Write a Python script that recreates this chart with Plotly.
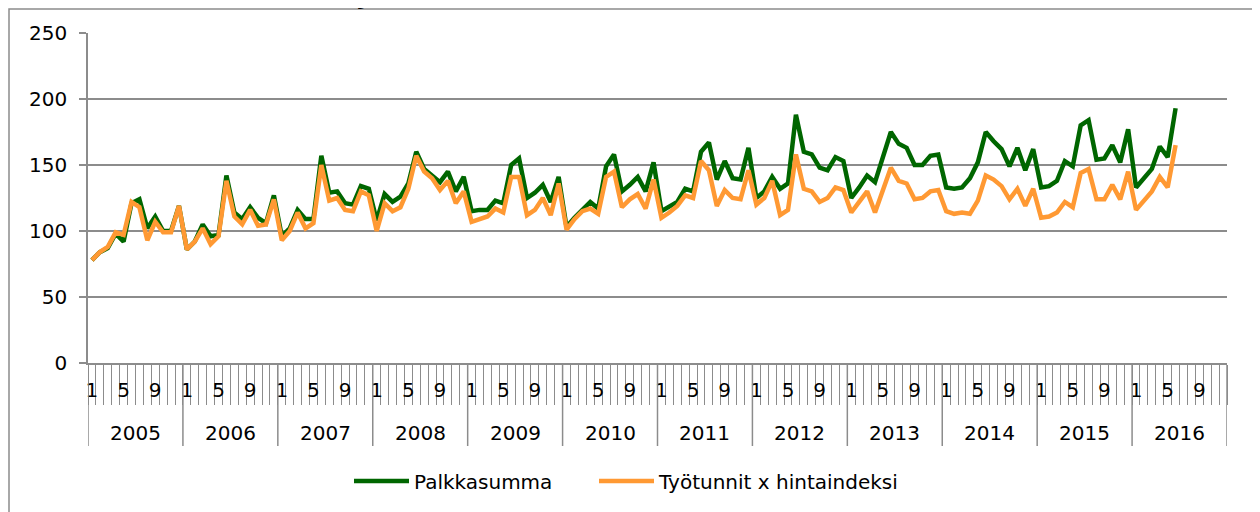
import plotly.graph_objects as go

years = ["2005", "2006", "2007", "2008", "2009", "2010", "2011", "2012",
         "2013", "2014", "2015", "2016"]
month_labels = ["1", "", "", "", "5", "", "", "", "9", "", "", ""]

palkkasumma = [
    78, 84, 87, 98, 92, 121, 124, 102, 111, 100, 100, 119,      # 2005
    86, 92, 105, 96, 97, 142, 114, 109, 118, 110, 106, 127,     # 2006
    96, 102, 116, 109, 109, 157, 129, 130, 121, 120, 134, 132,  # 2007
    108, 128, 122, 126, 136, 160, 147, 142, 137, 145, 130, 141, # 2008
    115, 116, 116, 123, 121, 150, 155, 125, 129, 135, 122, 141, # 2009
    103, 110, 116, 122, 117, 149, 158, 130, 135, 141, 130, 152, # 2010
    115, 119, 122, 132, 130, 160, 167, 139, 153, 140, 139, 163, # 2011
    125, 130, 141, 132, 136, 188, 160, 158, 148, 146, 156, 153, # 2012
    125, 133, 142, 137, 157, 175, 166, 163, 150, 150, 157, 158, # 2013
    133, 132, 133, 140, 152, 175, 168, 162, 149, 163, 146, 162, # 2014
    133, 134, 138, 153, 149, 180, 184, 154, 155, 165, 152, 177, # 2015
    133, 140, 147, 164, 156, 193,                               # 2016
]
tyotunnit = [
    78, 84, 88, 99, 97, 122, 118, 93, 107, 99, 99, 119,
    86, 92, 102, 90, 96, 138, 111, 105, 116, 104, 105, 124,
    93, 100, 114, 102, 106, 150, 123, 125, 116, 115, 130, 127,
    100, 121, 115, 118, 132, 157, 145, 140, 131, 138, 121, 130,
    107, 109, 111, 117, 114, 141, 141, 112, 116, 125, 112, 136,
    101, 109, 115, 117, 113, 141, 145, 118, 124, 128, 117, 139,
    110, 114, 119, 127, 125, 153, 146, 119, 131, 125, 124, 146,
    120, 125, 138, 112, 116, 158, 132, 130, 122, 125, 133, 131,
    114, 122, 130, 114, 130, 148, 138, 136, 124, 125, 130, 131,
    115, 113, 114, 113, 123, 142, 139, 134, 124, 132, 119, 132,
    110, 111, 114, 122, 118, 144, 147, 124, 124, 135, 124, 145,
    116, 123, 130, 141, 133, 165,
]
series_names = ["Palkkasumma", "Työtunnit x hintaindeksi"]
title_text = "Rakentaminen: Palkkasumma ja tunnit x kustannusindeksi (indeksi 2005 = 100)"

# The page body has an 8px margin, so the figure is sized to fit the 1260x512 window
OFF = 8
W, H = 1260 - OFF, 512 - OFF
L, R, T, B = 80, 33, 25, 149
plot_h = H - T - B
plot_w = W - L - R
GRID = "#8c8c8c"
FONT = "DejaVu Sans"

def fy(ref_y):  # window pixel y -> paper
    return (H - B - (ref_y - OFF)) / plot_h

def fx(ref_x):  # window pixel x -> paper
    return (ref_x - OFF - L) / plot_w

n_months = 12 * len(years)
x_idx = list(range(len(palkkasumma)))
tickvals = [i for i in range(n_months) if month_labels[i % 12]]
ticktext = [month_labels[i % 12] for i in tickvals]

fig = go.Figure()
fig.add_trace(go.Scatter(x=x_idx, y=palkkasumma, mode="lines", name=series_names[0],
                         line=dict(color="#006600", width=4.5), legend="legend"))
fig.add_trace(go.Scatter(x=x_idx, y=tyotunnit[:len(x_idx)], mode="lines", name=series_names[1],
                         line=dict(color="#FF9933", width=4.5), legend="legend2"))

shapes = []
for b in range(len(years) + 1):
    shapes.append(dict(type="line", xref="x", yref="paper", x0=12 * b - 0.5, x1=12 * b - 0.5,
                       y0=0, y1=fy(446), line=dict(color=GRID, width=1.5)))
shapes.append(dict(type="rect", xref="paper", yref="paper", x0=fx(9), x1=fx(1254),
                   y0=fy(530), y1=fy(9), line=dict(color=GRID, width=1.5), layer="below"))

annotations = []
for i, yr in enumerate(years):
    annotations.append(dict(x=12 * i + 5.5, xref="x", y=fy(433), yref="paper", text=yr,
                            showarrow=False, yanchor="middle",
                            font=dict(family=FONT, size=20, color="black")))
annotations.append(dict(x=fx(1064), xref="paper", y=fy(12), yref="paper", text="<b>" + title_text + "</b>",
                        showarrow=False, xanchor="right", yanchor="bottom",
                        font=dict(family=FONT, size=25, color="black")))

legend_common = dict(orientation="h", xanchor="left", yanchor="middle", y=fy(481), itemwidth=55,
                     font=dict(family=FONT, size=20, color="black"), bgcolor="rgba(0,0,0,0)")

fig.update_layout(
    width=W, height=H,
    margin=dict(l=L, r=R, t=T, b=B, autoexpand=False),
    paper_bgcolor="white", plot_bgcolor="white",
    font=dict(family=FONT, size=20, color="black"),
    showlegend=True,
    legend=dict(x=fx(349), **legend_common),
    legend2=dict(x=fx(594), **legend_common),
    shapes=shapes,
    annotations=annotations,
)
fig.update_xaxes(range=[-0.5, n_months - 0.5], tickmode="array", tickvals=tickvals, ticktext=ticktext,
                 ticks="", showgrid=False, zeroline=False, showline=True, linecolor=GRID, linewidth=1.5,
                 ticklabelstandoff=8, tickfont=dict(family=FONT, size=20, color="black"),
                 minor=dict(tickmode="linear", tick0=-0.5, dtick=1, ticks="outside", ticklen=40,
                            tickcolor=GRID, tickwidth=1.2, showgrid=False))
fig.update_yaxes(range=[0, 250], tickmode="linear", tick0=0, dtick=50, showgrid=True,
                 gridcolor=GRID, gridwidth=1.5, zeroline=False, showline=True, linecolor=GRID,
                 linewidth=1.5, ticks="outside", ticklen=7, tickcolor=GRID, tickwidth=1.5,
                 ticklabelstandoff=8, tickfont=dict(family=FONT, size=20, color="black"))

fig.write_html("out.html")
